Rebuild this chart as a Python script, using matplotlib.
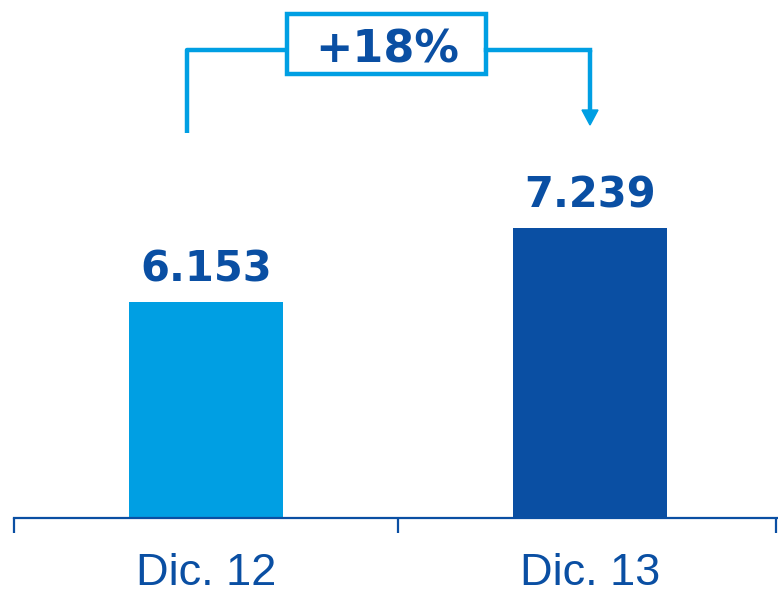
import matplotlib
matplotlib.use("Agg")
import matplotlib.pyplot as plt

categories = ["Dic. 12", "Dic. 13"]
values = [6.153, 7.239]
value_labels = ["6.153", "7.239"]
change_label = "+18%"

light = "#009FE3"
dark = "#0A4FA3"
colors = [light, dark]

W, H = 778, 594
fig = plt.figure(figsize=(W / 100, H / 100), dpi=100)
ax = fig.add_axes([14 / W, 76 / H, 768 / W, 518 / H])

x = range(len(categories))
ax.bar(x, values, width=0.4, color=colors, zorder=2)
ax.set_xlim(-0.5, 1.5)
ymin = 2.98
ax.set_ylim(ymin, ymin + 518 / 68.1)

for xi, v, lab in zip(x, values, value_labels):
    ax.annotate(lab, (xi, v), xytext=(0, 8), textcoords="offset points",
                ha="center", va="bottom", fontsize=30, fontweight="bold",
                color=dark, family="DejaVu Sans")

for s in ["top", "right", "left"]:
    ax.spines[s].set_visible(False)
ax.spines["bottom"].set_color(dark)
ax.spines["bottom"].set_linewidth(1.6)
ax.set_yticks([])
ax.set_xticks([-0.5, 0.5, 1.484])
ax.set_xticklabels([])
ax.tick_params(axis="x", length=11, width=1.6, color=dark, direction="out")
for xi, lab in zip(x, categories):
    ax.text(xi, -0.068, lab, transform=ax.get_xaxis_transform(), ha="center",
            va="top", fontsize=32.5, color=dark, family="Liberation Sans")

# bracket in figure pixel coordinates
def fx(px):
    return px / W

def fy(py):
    return 1 - py / H

lw = 3.2
fig.add_artist(plt.Line2D([fx(187), fx(187), fx(287)], [fy(133), fy(50), fy(50)],
                          color=light, lw=lw, solid_capstyle="butt"))
fig.add_artist(plt.Line2D([fx(486), fx(590)], [fy(50), fy(50)],
                          color=light, lw=lw, solid_capstyle="projecting"))
fig.add_artist(plt.Line2D([fx(590), fx(590)], [fy(50), fy(112)],
                          color=light, lw=lw, solid_capstyle="butt"))
fig.add_artist(plt.Polygon([[fx(582), fy(110)], [fx(598), fy(110)], [fx(590), fy(125)]],
                           closed=True, color=light))
box = plt.Rectangle((fx(287), fy(74)), fx(486) - fx(287), fy(14) - fy(74),
                    transform=fig.transFigure, fill=True, facecolor="white",
                    edgecolor=light, lw=lw)
fig.add_artist(box)
fig.text(fx(387), fy(50), change_label, ha="center", va="center",
         fontsize=32, fontweight="bold", color=dark, family="DejaVu Sans")

fig.savefig("out.png", dpi=100)
